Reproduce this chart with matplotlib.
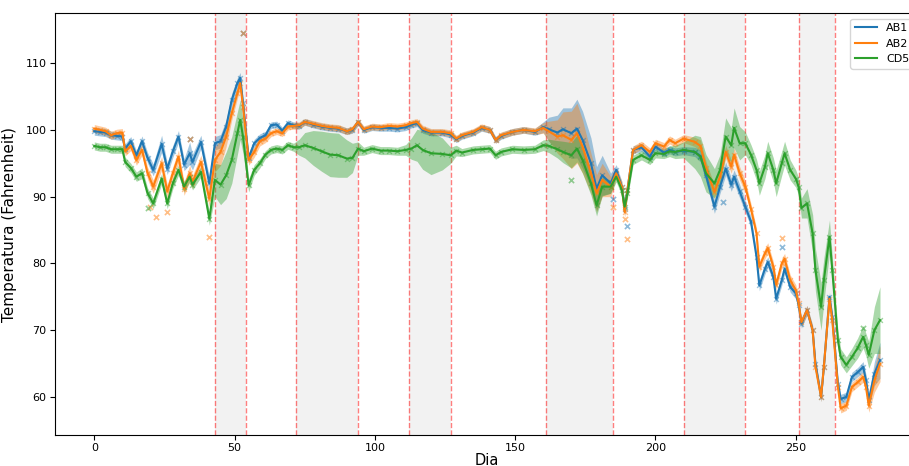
import matplotlib
matplotlib.use("Agg")
import matplotlib.pyplot as plt
import numpy as np

# ---------------- data ----------------
days = [0, 2, 4, 6, 8, 10, 11, 13, 15, 17, 19, 21, 24, 26, 28, 30, 32, 34, 35, 38, 41, 43, 45, 47, 49, 51, 52, 53, 55,
        57, 59, 61, 63, 65, 67, 69, 71, 73, 75, 78, 81, 84, 87, 90, 92, 94, 96, 99, 102, 105, 108, 111, 113, 115, 117,
        120, 124, 127, 129, 131, 135, 138, 141, 143, 145, 149, 153, 157, 160,
        162, 165, 167, 170, 172, 174, 177, 179, 181, 184, 186, 188, 189, 190, 192, 195, 198, 200, 203, 205, 207, 210,
        214, 216, 218, 221, 223, 225, 227, 228, 230, 232, 234, 236, 237, 239, 240, 242, 243, 245, 246, 248, 250,
        251, 252, 254, 256, 257, 259, 260, 262, 263, 265, 266, 268, 270, 272, 274, 275, 276, 278, 280]

ab1 = [99.8, 99.7, 99.6, 99.2, 99.1, 99.0, 97.2, 98.3, 96.2, 98.3, 95.8, 94.0, 97.9, 94.2, 96.8, 99.0, 94.8, 96.5, 95.2, 98.2, 92.0, 98.0, 98.3, 100.5, 104.5, 107.0, 107.8, 104.0, 95.8,
       98.0, 98.8, 99.2, 100.7, 100.8, 99.9, 101.0, 100.7, 100.6, 101.2, 100.8, 100.5, 100.3, 100.2, 99.8, 100.0, 101.2, 100.0, 100.4, 100.3, 100.3, 100.2, 100.4, 100.8, 101.0, 100.0,
       99.6, 99.6, 99.3, 98.6, 99.1, 99.6, 100.3, 100.0, 98.5, 99.1, 99.7, 100.0, 99.7, 100.4,
       100.1, 99.6, 100.1, 99.5, 100.2, 98.5, 95.0, 91.2, 93.2, 92.0, 94.0, 91.5, 88.2, 91.0, 97.0, 97.4, 96.0, 97.5, 96.6, 97.0, 96.7, 96.9,
       96.7, 96.1, 93.2, 88.5, 91.5, 94.2, 91.8, 93.0, 90.8, 88.5, 86.3, 81.0, 76.7, 79.2, 80.2, 78.0, 74.7, 77.5, 79.2, 76.5, 75.5,
       73.8, 71.0, 73.0, 70.0, 65.0, 60.0, 64.5, 75.0, 72.0, 62.0, 59.7, 60.0, 63.0, 63.7, 64.5, 62.5, 59.5, 63.5, 65.5]

ab2 = [100.2, 100.0, 99.8, 99.2, 99.5, 99.6, 96.8, 97.6, 95.5, 97.0, 93.5, 91.5, 95.0, 90.8, 93.5, 96.0, 91.2, 93.5, 92.2, 95.2, 89.7, 95.5, 96.7, 99.0, 102.5, 105.5, 107.0, 103.5, 95.5,
       96.7, 98.3, 98.7, 99.5, 99.8, 99.5, 100.5, 100.6, 100.7, 101.2, 100.9, 100.6, 100.4, 100.3, 99.8, 100.1, 101.2, 100.1, 100.5, 100.4, 100.6, 100.5, 100.7, 101.0, 101.2, 100.2,
       99.7, 99.7, 99.5, 98.7, 99.2, 99.7, 100.4, 100.0, 98.5, 99.2, 99.7, 100.0, 99.8, 100.3,
       99.8, 99.0, 99.2, 98.5, 99.5, 97.5, 93.5, 90.5, 92.5, 91.5, 93.5, 91.5, 87.7, 91.0, 97.0, 97.7, 96.7, 98.0, 97.5, 98.5, 98.0, 98.7,
       98.2, 97.6, 94.3, 90.7, 93.0, 96.7, 94.5, 96.3, 93.5, 91.5, 88.2, 84.5, 79.5, 81.5, 82.3, 79.5, 76.8, 80.0, 80.7, 77.5, 76.0,
       74.0, 71.2, 73.0, 70.0, 64.5, 60.0, 64.5, 74.7, 71.5, 61.5, 58.3, 58.7, 61.5, 62.2, 63.0, 61.5, 58.7, 62.5, 65.0]

cd5 = [97.6, 97.4, 97.4, 97.1, 97.1, 97.1, 95.2, 94.3, 93.0, 93.5, 90.5, 89.0, 92.7, 89.0, 92.0, 94.0, 91.5, 93.0, 91.8, 93.7, 86.7, 92.5, 91.8, 93.2, 95.5, 99.5, 101.5, 99.0, 91.7,
       94.0, 95.0, 96.3, 97.0, 97.2, 97.0, 97.7, 97.4, 97.4, 97.7, 97.3, 96.8, 96.3, 96.2, 95.7, 95.8, 97.2, 96.8, 97.2, 96.9, 96.9, 96.8, 97.0, 97.2, 97.7, 97.0,
       96.5, 96.4, 96.2, 96.9, 96.6, 97.0, 97.1, 97.2, 96.2, 96.7, 97.1, 97.0, 97.1, 97.7,
       97.6, 97.1, 96.7, 96.2, 97.2, 95.5, 92.0, 88.7, 91.5, 91.5, 93.0, 91.0, 88.5, 90.5, 95.5, 96.2, 95.5, 96.5, 96.4, 96.8, 96.7, 97.0,
       96.7, 96.0, 93.5, 92.0, 94.0, 99.0, 97.7, 100.3, 98.0, 98.0, 96.3, 94.0, 92.0, 94.5, 96.5, 94.0, 92.0, 95.0, 96.5, 94.0, 92.7,
       91.5, 88.3, 89.0, 84.5, 79.0, 73.5, 77.5, 84.0, 79.0, 68.5, 66.0, 64.8, 66.0, 67.3, 69.0, 67.8, 66.3, 70.0, 71.5]

# half-widths of the shaded confidence bands
ab1_ci = [0.6, 0.6, 0.6, 0.6, 0.6, 0.6, 0.7, 0.7, 0.7, 0.8, 0.8, 0.9, 1.3, 0.9, 0.9, 0.9, 0.9, 1.7, 1.2, 1.0, 1.0, 1.0, 1.0, 1.0, 1.0, 0.8, 0.8, 0.8, 0.8,
          0.6, 0.6, 0.6, 0.5, 0.5, 0.5, 0.5, 0.5, 0.5, 0.5, 0.5, 0.5, 0.5, 0.5, 0.5, 0.5, 0.5, 0.5, 0.5, 0.5, 0.5, 0.5, 0.5, 0.5, 0.5, 0.5,
          0.5, 0.5, 0.5, 0.5, 0.5, 0.5, 0.5, 0.5, 0.5, 0.5, 0.5, 0.5, 0.5, 0.8,
          1.8, 2.6, 3.2, 3.8, 4.4, 4.3, 3.8, 3.3, 3.0, 1.5, 0.8, 0.8, 0.9, 0.8, 0.6, 0.6, 0.6, 0.6, 0.6, 0.6, 0.6, 0.6,
          0.7, 0.9, 1.0, 1.0, 1.0, 1.0, 1.0, 1.0, 1.0, 0.9, 0.8, 0.8, 0.8, 0.8, 0.8, 0.8, 0.8, 0.8, 0.8, 0.8, 0.8,
          0.7, 0.7, 0.7, 0.7, 0.7, 0.7, 0.7, 0.7, 0.7, 0.7, 0.7, 0.7, 0.7, 0.7, 0.8, 0.9, 1.0, 1.8, 2.7]

ab2_ci = [0.6, 0.6, 0.6, 0.6, 0.6, 0.6, 0.7, 0.7, 0.8, 0.8, 0.9, 1.0, 1.0, 1.0, 1.0, 1.0, 1.0, 1.2, 1.0, 1.0, 1.2, 1.8, 2.0, 1.5, 1.0, 0.8, 0.8, 0.8, 0.8,
          0.8, 0.7, 0.6, 0.5, 0.5, 0.5, 0.5, 0.5, 0.5, 0.5, 0.5, 0.5, 0.5, 0.5, 0.5, 0.5, 0.5, 0.5, 0.5, 0.5, 0.5, 0.5, 0.5, 0.5, 0.5, 0.5,
          0.5, 0.5, 0.5, 0.5, 0.5, 0.5, 0.5, 0.5, 0.5, 0.5, 0.5, 0.5, 0.5, 0.8,
          1.5, 2.5, 3.5, 4.3, 4.5, 4.0, 3.0, 2.8, 2.5, 1.5, 0.8, 0.8, 0.9, 0.8, 0.6, 0.6, 0.6, 0.6, 0.6, 0.6, 0.6, 0.6,
          0.7, 0.9, 1.0, 1.0, 1.0, 1.0, 1.0, 1.0, 1.0, 0.9, 0.8, 0.8, 0.8, 0.8, 0.8, 0.8, 0.8, 0.8, 0.8, 0.8, 0.8,
          0.7, 0.7, 0.7, 0.7, 0.7, 0.7, 0.7, 0.7, 0.7, 0.7, 0.7, 0.7, 0.7, 0.7, 0.8, 0.9, 1.0, 1.8, 2.7]

cd5_ci = [0.6, 0.6, 0.6, 0.6, 0.6, 0.6, 0.7, 0.7, 0.7, 0.8, 0.8, 0.8, 0.8, 0.8, 0.8, 0.8, 0.8, 0.8, 0.8, 0.8, 1.0, 2.5, 3.0, 3.5, 3.5, 3.2, 3.0, 2.5, 1.0,
          0.8, 0.7, 0.6, 0.6, 0.6, 0.6, 0.6, 0.6, 1.2, 1.9, 2.6, 3.0, 3.3, 3.3, 2.8, 2.2, 1.0, 0.6, 0.6, 0.6, 0.6, 0.6, 0.8, 1.6, 2.4, 2.9,
          3.2, 2.4, 1.2, 0.8, 0.6, 0.6, 0.6, 0.6, 0.6, 0.6, 0.6, 0.6, 0.6, 0.8,
          1.0, 1.3, 1.6, 1.9, 2.0, 2.0, 1.8, 1.6, 1.4, 1.0, 0.8, 0.8, 0.9, 0.8, 0.7, 0.7, 0.7, 0.7, 0.7, 0.8, 1.0, 1.2,
          2.5, 3.0, 2.8, 2.2, 2.3, 2.8, 2.6, 3.0, 2.5, 1.7, 1.5, 1.6, 1.8, 1.8, 1.8, 1.8, 2.0, 1.8, 1.8, 1.5, 1.3,
          1.3, 1.5, 2.2, 2.8, 3.2, 3.5, 3.3, 2.5, 2.0, 1.5, 1.2, 1.2, 1.3, 1.5, 1.7, 1.7, 2.0, 3.5, 5.0]

# isolated raw readings that sit away from the curves
ab1_out_days = [34, 53, 185, 190, 224, 245]
ab1_out_vals = [98.7, 114.5, 89.6, 85.6, 89.2, 82.5]
ab2_out_days = [20, 22, 26, 34, 41, 53, 185, 189, 190, 245]
ab2_out_vals = [88.5, 87.0, 87.7, 98.7, 84.0, 114.5, 88.4, 86.7, 83.7, 83.8]
cd5_out_days = [19, 170, 274]
cd5_out_vals = [88.3, 92.5, 70.3]

boundaries = [43, 54, 72, 94, 112, 127, 161, 185, 210, 232, 251, 264]

series_names = ["AB1", "AB2", "CD5"]
x_ticks = [0, 50, 100, 150, 200, 250]
y_ticks = [60, 70, 80, 90, 100, 110]

# ---------------- drawing ----------------
colors = ["#1f77b4", "#ff7f0e", "#2ca02c"]
fig = plt.figure(figsize=(9.09, 4.66), dpi=100)
ax = fig.add_axes([0.0605, 0.0665, 0.9508, 0.9055])

for a, b in zip(boundaries[0::2], boundaries[1::2]):
    ax.axvspan(a, b, color="gray", alpha=0.1, lw=0, zorder=0)
for d in boundaries:
    ax.axvline(d, color="red", ls="--", alpha=0.5, lw=1.0, zorder=1)

x = np.array(days, dtype=float)
all_vals = [ab1, ab2, cd5]
all_ci = [ab1_ci, ab2_ci, cd5_ci]
outs = [(ab1_out_days, ab1_out_vals), (ab2_out_days, ab2_out_vals), (cd5_out_days, cd5_out_vals)]

for name, vals, ci, c, (od, ov) in zip(series_names, all_vals, all_ci, colors, outs):
    v = np.array(vals)
    e = np.array(ci)
    ax.fill_between(x, v - e, v + e, color=c, alpha=0.4, lw=0, zorder=2)
    ax.scatter(x, v, marker="x", s=12, color=c, alpha=0.45, lw=1, zorder=3)
    ax.scatter(od, ov, marker="x", s=14, color=c, alpha=0.5, lw=1.2, zorder=3)
    ax.plot(x, v, color=c, lw=1.5, label=name, zorder=4)

ax.set_xlim(-14, 294)
ax.set_ylim(54.3, 117.5)
ax.set_xticks(x_ticks)
ax.set_yticks(y_ticks)
ax.tick_params(labelsize=8, pad=2.5)
ax.set_xlabel("Dia", fontsize=10.5, labelpad=0)
ax.set_ylabel("Temperatura (Fahrenheit)", fontsize=11, labelpad=6)
ax.legend(loc="upper right", fontsize=8)

fig.savefig("out.png", dpi=100)
